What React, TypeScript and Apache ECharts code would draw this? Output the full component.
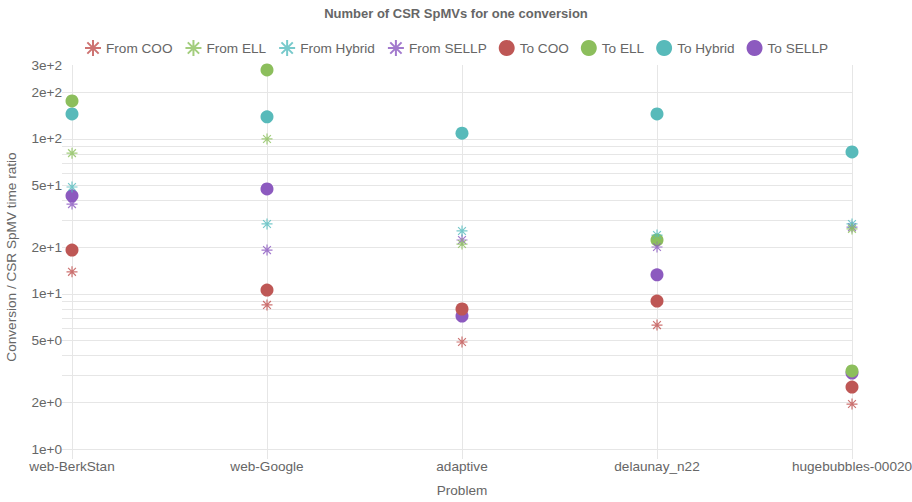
import React, { useEffect, useRef } from "react";
import * as echarts from "echarts";

const categories = ["web-BerkStan", "web-Google", "adaptive", "delaunay_n22", "hugebubbles-00020"];

const fromCOO = [13.9, 8.5, 4.9, 6.3, 1.95];
const fromELL = [81, 100, 21, 22.5, 26.3];
const fromHybrid = [49, 28.3, 25.5, 24, 28.3];
const fromSELLP = [38, 19.2, 22.3, 20.1, 27];
const toCOO = [19.2, 10.6, 8.0, 9.0, 2.51];
const toELL: (number | null)[] = [176, 279, null, 22.3, 3.19];
const toHybrid = [145, 139, 109, 145, 82.5];
const toSELLP = [43, 47.6, 7.2, 13.3, 3.09];

const yGridValues = [1, 2, 3, 4, 5, 6, 7, 8, 9, 10, 20, 30, 40, 50, 60, 70, 80, 90, 100, 200];
const yLabelValues = [1, 2, 5, 10, 20, 50, 100, 200, 300];
const yMax = 300;

const seriesDefs = [
  { name: "From COO", values: fromCOO, color: "#c0504f", star: true },
  { name: "From ELL", values: fromELL, color: "#8cc05d", star: true },
  { name: "From Hybrid", values: fromHybrid, color: "#55bcbe", star: true },
  { name: "From SELLP", values: fromSELLP, color: "#8b58c0", star: true },
  { name: "To COO", values: toCOO, color: "#be5755", star: false },
  { name: "To ELL", values: toELL, color: "#8cbe5c", star: false },
  { name: "To Hybrid", values: toHybrid, color: "#58baba", star: false },
  { name: "To SELLP", values: toSELLP, color: "#8c5abf", star: false },
];

const STAR = "path://M5,0L5,10M0,5L10,5M1.46,1.46L8.54,8.54M1.46,8.54L8.54,1.46";
const FONT = "'Liberation Sans', Arial, sans-serif";
const GRID = "#e6e6e6";
const FS = 13.6;

export default function App() {
  const ref = useRef<HTMLDivElement>(null);
  useEffect(() => {
    if (!ref.current) return;
    const chart = echarts.init(ref.current, null, { renderer: "svg" });
    const series = seriesDefs.map((d, i) => ({
      name: d.name,
      type: "scatter",
      z: 20 - i,
      symbol: d.star ? STAR : "circle",
      symbolSize: d.star ? 11 : 13,
      itemStyle: d.star
        ? { color: "rgba(0,0,0,0)", borderColor: d.color, borderWidth: 1.2 }
        : { color: d.color, opacity: 1 },
      data: d.values.map((v, j) => (v == null ? [j, "-"] : [j, Math.log10(v)])),
    }));
    chart.setOption({
      animation: false,
      textStyle: { fontFamily: FONT },
      title: {
        text: "Number of CSR SpMVs for one conversion",
        left: "center",
        top: 2,
        textStyle: { fontSize: 13, fontWeight: "bold", color: "#666", fontFamily: FONT },
      },
      legend: {
        top: 34,
        left: "center",
        itemWidth: 16,
        itemHeight: 16,
        itemGap: 12,
        textStyle: { fontSize: FS, color: "#666", fontFamily: FONT },
        data: seriesDefs.map((d) => ({ name: d.name, icon: d.star ? STAR : "circle" })),
      },
      grid: { left: 72, right: 60, top: 65, bottom: 53, containLabel: false, outerBoundsMode: "none" },
      xAxis: {
        type: "category",
        data: categories,
        boundaryGap: false,
        name: "Problem",
        nameLocation: "middle",
        nameGap: 34,
        nameTextStyle: { fontSize: FS, color: "#666", fontFamily: FONT },
        axisLine: { show: true, lineStyle: { color: GRID } },
        axisTick: { show: true, length: 10, lineStyle: { color: GRID } },
        splitLine: { show: true, lineStyle: { color: GRID } },
        axisLabel: { interval: 0, margin: 10, fontSize: FS, color: "#666", fontFamily: FONT },
      },
      yAxis: {
        type: "value",
        min: 0,
        max: Math.log10(yMax),
        name: "Conversion / CSR SpMV time ratio",
        nameLocation: "middle",
        nameGap: 54,
        nameTextStyle: { fontSize: FS, color: "#666", fontFamily: FONT },
        axisLine: { show: false },
        axisTick: {
          show: true,
          length: 10,
          lineStyle: { color: GRID },
          customValues: yGridValues.map((v) => Math.log10(v)),
        },
        splitLine: { show: true, lineStyle: { color: GRID } },
        axisLabel: {
          margin: 10,
          fontSize: FS,
          color: "#666",
          fontFamily: FONT,
          customValues: yLabelValues.map((v) => Math.log10(v)),
          formatter: (v: number) => Math.pow(10, v).toExponential(0),
        },
      },
      series,
    });
    return () => chart.dispose();
  }, []);
  return (
    <div
      ref={ref}
      style={{ position: "fixed", left: 0, top: 0, width: 912, height: 502, background: "#fff" }}
    />
  );
}
